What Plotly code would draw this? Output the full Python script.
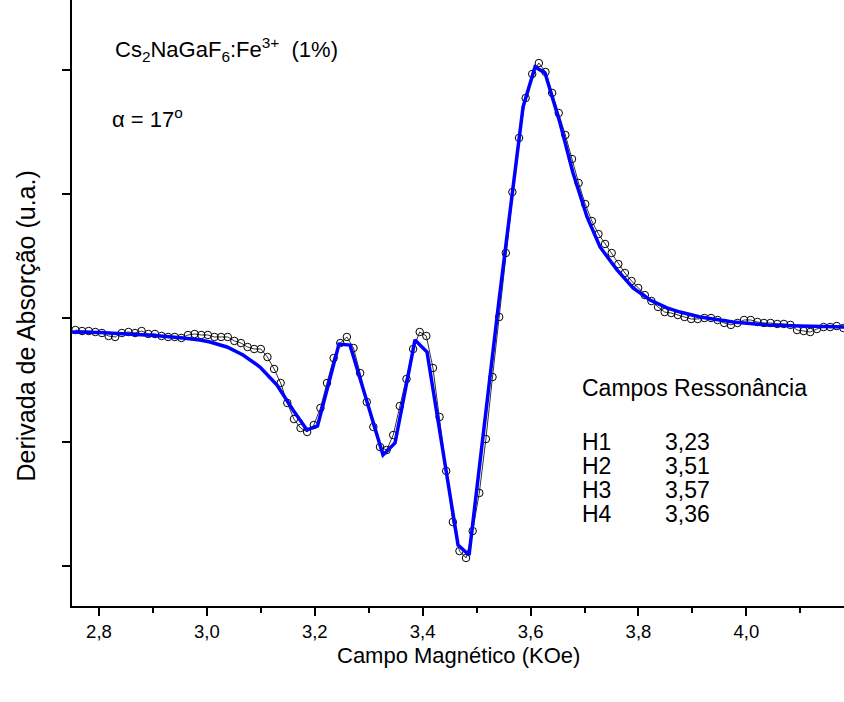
import plotly.graph_objects as go

# ---- data ----
campo = [2.7564, 2.7687, 2.7810, 2.7932, 2.8055, 2.8178, 2.8300, 2.8423, 2.8546, 2.8669,
         2.8791, 2.8914, 2.9037, 2.9159, 2.9282, 2.9405, 2.9528, 2.9650, 2.9773, 2.9896,
         3.0018, 3.0141, 3.0264, 3.0387, 3.0509, 3.0632, 3.0755, 3.0877, 3.1000, 3.1123,
         3.1246, 3.1368, 3.1491, 3.1614, 3.1736, 3.1859, 3.1982, 3.2105, 3.2227, 3.2350,
         3.2473, 3.2595, 3.2718, 3.2841, 3.2964, 3.3086, 3.3209, 3.3332, 3.3454, 3.3577,
         3.3700, 3.3823, 3.3945, 3.4068, 3.4191, 3.4313, 3.4436, 3.4559, 3.4682, 3.4804,
         3.4927, 3.5050, 3.5172, 3.5295, 3.5418, 3.5541, 3.5663, 3.5786, 3.5909, 3.6031,
         3.6154, 3.6277, 3.6400, 3.6522, 3.6645, 3.6768, 3.6890, 3.7013, 3.7136, 3.7259,
         3.7381, 3.7504, 3.7627, 3.7749, 3.7872, 3.7995, 3.8118, 3.8240, 3.8363, 3.8486,
         3.8608, 3.8731, 3.8854, 3.8977, 3.9099, 3.9222, 3.9345, 3.9467, 3.9590, 3.9713,
         3.9836, 3.9958, 4.0081, 4.0204, 4.0326, 4.0449, 4.0572, 4.0695, 4.0817, 4.0940,
         4.1063, 4.1185, 4.1308, 4.1431, 4.1554, 4.1676, 4.1799]

derivada = [-0.097, -0.105, -0.105, -0.113, -0.121, -0.145, -0.153, -0.121, -0.113, -0.121,
            -0.105, -0.129, -0.129, -0.145, -0.153, -0.153, -0.161, -0.137, -0.129, -0.137,
            -0.137, -0.153, -0.153, -0.153, -0.185, -0.202, -0.234, -0.250, -0.250, -0.315,
            -0.411, -0.524, -0.685, -0.815, -0.887, -0.919, -0.863, -0.726, -0.524, -0.323,
            -0.202, -0.153, -0.242, -0.444, -0.677, -0.879, -1.040, -1.065, -0.944, -0.710,
            -0.492, -0.250, -0.113, -0.145, -0.403, -0.798, -1.234, -1.645, -1.879, -1.935,
            -1.718, -1.411, -0.976, -0.476, 0.008, 0.524, 1.016, 1.452, 1.774, 1.968,
            2.056, 1.984, 1.815, 1.653, 1.476, 1.282, 1.089, 0.919, 0.782, 0.677,
            0.597, 0.524, 0.435, 0.363, 0.298, 0.242, 0.185, 0.137, 0.089, 0.048,
            0.040, 0.024, 0.008, -0.008, -0.008, 0.000, 0.000, -0.016, -0.040, -0.056,
            -0.040, -0.016, -0.016, -0.032, -0.040, -0.040, -0.048, -0.048, -0.056, -0.097,
            -0.105, -0.113, -0.089, -0.073, -0.073, -0.065, -0.081]

campo_ajuste = [2.7500, 2.8019, 2.8519, 2.9038, 2.9557, 2.9872, 3.0058, 3.0373, 3.0670, 3.0985,
                3.1300, 3.1597, 3.1856, 3.2051, 3.2449, 3.2653, 3.3265, 3.3488, 3.3858, 3.4081,
                3.4656, 3.4860, 3.5416, 3.5638, 3.5861, 3.6083, 3.6268, 3.6546, 3.6787, 3.7047,
                3.7288, 3.7603, 3.7900, 3.8215, 3.8530, 3.8771, 3.9142, 3.9754, 4.0384, 4.0996,
                4.1812]
derivada_ajuste = [-0.113, -0.117, -0.129, -0.141, -0.161, -0.177, -0.194, -0.234, -0.298, -0.395,
                   -0.540, -0.742, -0.903, -0.871, -0.210, -0.218, -1.105, -1.008, -0.177, -0.274,
                   -1.831, -1.911, 0.145, 0.895, 1.702, 2.024, 1.976, 1.573, 1.169, 0.815,
                   0.573, 0.387, 0.242, 0.145, 0.081, 0.048, 0.008, -0.032, -0.056, -0.065,
                   -0.073]

x_ticks = [2.8, 3.0, 3.2, 3.4, 3.6, 3.8, 4.0]
x_ticktext = ["2,8", "3,0", "3,2", "3,4", "3,6", "3,8", "4,0"]
y_ticks = [-2, -1, 0, 1, 2]

campos_nomes = ["H1", "H2", "H3", "H4"]
campos_valores = ["3,23", "3,51", "3,57", "3,36"]

FONT = "Liberation Sans, Arial, sans-serif"

fig = go.Figure()
fig.add_trace(go.Scatter(
    x=campo, y=derivada, mode="lines+markers",
    line=dict(color="black", width=0.8),
    marker=dict(symbol="circle-open", size=7.5, color="black", line=dict(width=1)),
    showlegend=False))
fig.add_trace(go.Scatter(
    x=campo_ajuste, y=derivada_ajuste, mode="lines",
    line=dict(color="rgb(0,0,255)", width=3.5),
    showlegend=False))

fig.update_xaxes(
    range=[2.75, 4.181], showgrid=False, zeroline=False,
    showline=True, linecolor="black", linewidth=2, mirror=False,
    ticks="outside", ticklen=8, tickwidth=2, tickcolor="black",
    tickvals=x_ticks, ticktext=x_ticktext,
    tickfont=dict(family=FONT, size=18.5, color="black"),
    minor=dict(dtick=0.1, tick0=2.8, ticks="outside", ticklen=5, tickwidth=2, tickcolor="black"))
fig.update_yaxes(
    range=[-2.3226, 2.5645], showgrid=False, zeroline=False,
    showline=True, linecolor="black", linewidth=2, mirror=False,
    ticks="outside", ticklen=8, tickwidth=2, tickcolor="black",
    tickvals=y_ticks, showticklabels=False)

annots = [
    dict(x=0.5, y=-0.081, text="Campo Magnético (KOe)", font_size=22, xanchor="center", yanchor="middle"),
    dict(x=-0.059, y=0.462, text="Derivada de Absorção (u.a.)", font_size=25, xanchor="center",
         yanchor="middle", textangle=-90),
    dict(x=0.053, y=0.9175, text="Cs<sub>2</sub>NaGaF<sub>6</sub>:Fe<sup>3+</sup>  (1%)", font_size=22,
         xanchor="left", yanchor="middle"),
    dict(x=0.049, y=0.805, text="α = 17<sup>o</sup>", font_size=22, xanchor="left", yanchor="middle"),
    dict(x=0.658, y=0.3597, text="Campos Ressonância", font_size=23, xanchor="left", yanchor="middle"),
]
rows_y = [0.2706, 0.2310, 0.1914, 0.1518]
for nome, val, yy in zip(campos_nomes, campos_valores, rows_y):
    annots.append(dict(x=0.658, y=yy, text=nome, font_size=23, xanchor="left", yanchor="middle"))
    annots.append(dict(x=0.7655, y=yy, text=val, font_size=23, xanchor="left", yanchor="middle"))

for a in annots:
    fs = a.pop("font_size")
    fig.add_annotation(xref="paper", yref="paper", showarrow=False,
                       font=dict(family=FONT, size=fs, color="black"), **a)

fig.update_layout(
    width=844, height=702,
    margin=dict(l=72, r=0, t=0, b=96),
    paper_bgcolor="white", plot_bgcolor="white",
    font=dict(family=FONT, color="black"))

fig.write_html("out.html")
